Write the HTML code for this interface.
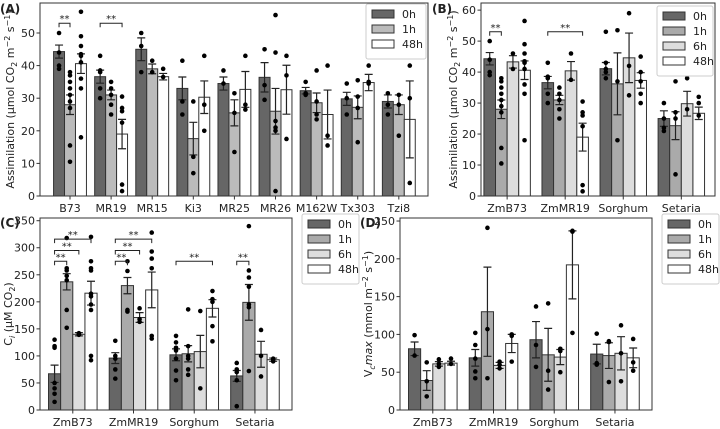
<!DOCTYPE html>
<html><head><meta charset="utf-8"><style>
body{margin:0;background:#fff;font-family:"Liberation Sans","DejaVu Sans",sans-serif}
svg{display:block}
text{font-family:"DejaVu Sans","Liberation Sans",sans-serif;fill:#222}
</style></head><body>
<svg id="fig" width="720" height="429" viewBox="0 0 720 429" xmlns="http://www.w3.org/2000/svg"></svg>
<script>
// ---------- DATA ----------
const catsA = ["B73","MR19","MR15","Ki3","MR25","MR26","M162W","Tx303","Tzi8"];
const seriesA = ["0h","1h","48h"];
const meansA = [[44.3,28,40.6],[36.6,31,19],[45,39,36.6],[33,17.6,30.3],[34.5,25.5,32.7],[36.4,26,32.6],[32.3,28.6,25],[29.8,27.2,34.8],[29,28,23.5]];
const errA = [[2,3,3],[2,1.5,4.5],[3.5,1.5,1],[3.5,5,5],[2,4,5.5],[4.5,7,7.5],[1,3,7.5],[2,3.5,2.5],[2,3,11.8]];
const ptsA = [
 [[50,40,39,44],[38,37,35,33,31,29,27,15.5,10.5],[56.5,49,46,43.5,43,41,36,33,18]],
 [[43,38.5,38,33,30],[35,33,31,28,25],[30.5,27,26,22.5,3.5,1.5]],
 [[50,46,38],[41.5,38],[39,36.5]],
 [[41.5,29,25],[29,12,7],[43,28,20]],
 [[38.5,34.5],[31.5,25.5,13.5],[43,28,26.5]],
 [[45,34,29.5],[55.5,44,23,21,20,1.5],[43,37,17.5]],
 [[35,31.5,31],[38.5,29,25,23.5],[40,18.5,15.5]],
 [[34.5,30,25],[35.5,30.5,27,16.5],[40,35,34.5]],
 [[31.5,28,25],[31,28,18.5],[40,30,4]]];
const sigA = [[0,0,1,53],[1,0,2,53]];
const ticksA = [0,10,20,30,40,50];

const cats4 = ["ZmB73","ZmMR19","Sorghum","Setaria"];
const series4 = ["0h","1h","6h","48h"];
const meansB = [[44.3,28,43.3,40.6],[36.6,31,40.4,19],[41.1,36.2,44.6,37.3],[25,22.7,29.8,26.7]];
const errB = [[2,3,2,3],[2,1.5,3,4.5],[2,10,8,2.5],[2.5,4.5,4,2]];
const ptsB = [
 [[50,40,39,44],[38,37,35,33,31,29,27,15.5,10.5],[46,41],[56.5,49,46,43.5,43,41,36,33,18]],
 [[43,38.5,38,33,30],[35,33,31,28,25],[46,37.5],[30.5,27,26,22.5,3.5,1.5]],
 [[53,43,41,40,38],[53.5,37,18],[59,42,32.5],[45,40,37,33,30]],
 [[30,25,22,21],[37,27,25,7],[38,28],[32,30,26]]];
const sigB = [[0,0,1,53],[1,0,3,53]];
const ticksB = [0,10,20,30,40,50,60];

const meansC = [[67,237,140,216],[96,230,171,222],[102,104,108,188],[63,199,103,93]];
const errC = [[16,15,3,22],[10,15,9,33],[11,15,30,16],[10,33,24,3]];
const ptsC = [
 [[130,118,115,50,40,30,15],[318,262,258,248,240,185,152],[142,140,139],[320,275,262,258,215,210,195,185,100,92]],
 [[128,100,95,75,58],[275,257,185,182],[188,168,163],[328,293,280,262,137,132]],
 [[137,125,115,110,95,73,55],[186,118,100,95,75,65],[183,40],[220,205,200,155,127]],
 [[87,75,70,55,7],[340,258,245,228,195,190,72],[148,100,62],[95,93,90]]];
const sigC = [[0,0,1,275],[0,0,2,295],[0,0,3,316],[1,0,1,275],[1,0,2,295],[1,0,3,316],[2,0,3,275],[3,0,1,275]];
const ticksC = [0,50,100,150,200,250,300,350];

const meansD = [[81,39,61,62],[69,130,59,88],[93,73,70,192],[74,72,75,69]];
const errD = [[9,13,3,2.5],[11,59,4,12],[24,35,10,45],[13,17,22,13]];
const ptsD = [
 [[99,72],[63,38,18],[67,61,57],[68,61]],
 [[102,86,68,51,42],[241,107,42],[64,60,55],[100,98,64]],
 [[137,86,57],[141,52,27],[81,78,50],[237,236,102]],
 [[101,62,60],[91,90,37],[112,75,38],[94,63,52]]];
const sigD = [];
const ticksD = [0,50,100,150,200,250];

const NS="http://www.w3.org/2000/svg";
const fig=document.getElementById('fig');
function mk(tag,attrs,parent){const e=document.createElementNS(NS,tag);for(const k in attrs)e.setAttribute(k,attrs[k]);(parent||fig).appendChild(e);return e;}

function panel(cfg){
  const g=mk('g',{});
  
  
  const {x0,x1,yt,yb,ymax,xmin,xmax}=cfg;
  const sx=v=>x0+(v-xmin)/(xmax-xmin)*(x1-x0);
  const sy=v=>yb-v/ymax*(yb-yt);
  const n=cfg.series.length, bw=0.8/n;
  const fills=cfg.fills;
  cfg.cats.forEach((c,i)=>{
    for(let s=0;s<n;s++){
      const cx=i+(s-(n-1)/2)*bw;
      const m=cfg.means[i][s], e=cfg.err[i][s];
      const r=mk('rect',{x:sx(cx-bw/2),y:sy(m),width:sx(cx+bw/2)-sx(cx-bw/2),height:sy(0)-sy(m),fill:fills[s],stroke:'#333','stroke-width':1},g);
      
      
      const px=sx(cx);
      const eb=mk('path',{d:`M${px},${sy(m-e)}V${sy(m+e)}M${px-4},${sy(m-e)}H${px+4}M${px-4},${sy(m+e)}H${px+4}`,stroke:'#222','stroke-width':1.2,fill:'none'},g);
      
      
      cfg.pts[i][s].forEach(v=>{
        const d=mk('circle',{cx:px,cy:sy(v),r:2.3,fill:'#000'},g);
        
        
      });
    }
  });
  cfg.sig.forEach(([i,a,b,v])=>{
    const xa=sx(i+(a-(n-1)/2)*bw), xb=sx(i+(b-(n-1)/2)*bw), y=sy(v);
    const br=mk('path',{d:`M${xa},${y+4}V${y}H${xb}V${y+4}`,stroke:'#222','stroke-width':1,fill:'none'},g);
    
    
    const t=mk('text',{x:(xa+xb)/2,y:y-1,'text-anchor':'middle','font-size':10},g);
    t.textContent='**';
    
    
  });
  const box=mk('rect',{x:x0,y:yt,width:x1-x0,height:yb-yt,fill:'none',stroke:'#333','stroke-width':1},g);
  
  
  cfg.ticks.forEach(v=>{
    mk('line',{x1:x0-3.5,x2:x0,y1:sy(v),y2:sy(v),stroke:'#333'},g);
    const t=mk('text',{x:x0-5,y:sy(v)+4,'text-anchor':'end','font-size':11},g);
    t.textContent=v;
    
    
  });
  cfg.cats.forEach((c,i)=>{
    mk('line',{x1:sx(i),x2:sx(i),y1:yb,y2:yb+3.5,stroke:'#333'},g);
    const t=mk('text',{x:sx(i),y:yb+16,'text-anchor':'middle','font-size':11},g);
    t.textContent=c;
    
    
  });
  const yl=mk('text',{transform:`translate(${cfg.ylx},${(yt+yb)/2}) rotate(-90)`,'text-anchor':'middle','font-size':11},g);
  yl.innerHTML=cfg.ylabel;
  
  
  const tag=mk('text',{x:cfg.tx,y:cfg.ty,'font-size':12,'font-weight':'bold'},g);
  tag.textContent=cfg.tag;
  
  
  // legend
  const L=cfg.leg;
  const lg=mk('g',{},g);
  
  
  mk('rect',{x:L.x,y:L.y,width:L.w,height:10+n*15,fill:'#fff',stroke:'#ccc',rx:2},lg);
  cfg.series.forEach((s,k)=>{
    const yy=L.y+6+k*15;
    mk('rect',{x:L.x+6,y:yy,width:22,height:8,fill:fills[k],stroke:'#333'},lg);
    const t=mk('text',{x:L.x+36,y:yy+8,'font-size':11},lg);
    t.textContent=s;
    
    
  });
}
const f3=['#666','#bbb','#fff'], f4=['#666','#aaa','#ddd','#fff'];
panel({name:'panel-a',cats:catsA,series:seriesA,means:meansA,err:errA,pts:ptsA,sig:sigA,ticks:ticksA,fills:f3,
 x0:40,x1:428,yt:3,yb:196,ymax:59.2,xmin:-0.73,xmax:8.71,ylx:14,
 ylabel:'Assimilation (μmol CO<tspan font-size="8" dy="3">2</tspan><tspan dy="-3"> m</tspan><tspan font-size="8" dy="-4">−2</tspan><tspan dy="4"> s</tspan><tspan font-size="8" dy="-4">−1</tspan><tspan dy="4">)</tspan>',
 tag:'(A)',tx:0,ty:13,leg:{x:366,y:4,w:60}});
panel({name:'panel-b',cats:cats4,series:series4,means:meansB,err:errB,pts:ptsB,sig:sigB,ticks:ticksB,fills:f4,
 x0:481,x1:715,yt:3,yb:196,ymax:62.3,xmin:-0.45,xmax:3.58,ylx:457,
 ylabel:'Assimilation (μmol CO<tspan font-size="8" dy="3">2</tspan><tspan dy="-3"> m</tspan><tspan font-size="8" dy="-4">−2</tspan><tspan dy="4"> s</tspan><tspan font-size="8" dy="-4">−1</tspan><tspan dy="4">)</tspan>',
 tag:'(B)',tx:432,ty:13,leg:{x:657,y:6,w:56}});
panel({name:'panel-c',cats:cats4,series:series4,means:meansC,err:errC,pts:ptsC,sig:sigC,ticks:ticksC,fills:f4,
 x0:40,x1:292,yt:218,yb:410,ymax:355,xmin:-0.54,xmax:3.61,ylx:12,
 ylabel:'C<tspan font-size="8" dy="3" font-style="italic">i</tspan><tspan dy="-3"> (μM CO</tspan><tspan font-size="8" dy="3">2</tspan><tspan dy="-3">)</tspan>',
 tag:'(C)',tx:0,ty:227,leg:{x:302,y:214,w:57}});
panel({name:'panel-d',cats:cats4,series:series4,means:meansD,err:errD,pts:ptsD,sig:sigD,ticks:ticksD,fills:f4,
 x0:400,x1:652,yt:218,yb:410,ymax:254,xmin:-0.54,xmax:3.61,ylx:372,
 ylabel:'V<tspan font-size="8" dy="3" font-style="italic">c</tspan><tspan dy="-3" font-style="italic">max</tspan><tspan> (mmol m</tspan><tspan font-size="8" dy="-4">−2</tspan><tspan dy="4"> s</tspan><tspan font-size="8" dy="-4">−1</tspan><tspan dy="4">)</tspan>',
 tag:'(D)',tx:360,ty:227,leg:{x:662,y:214,w:57}});
</script>
</body></html>
